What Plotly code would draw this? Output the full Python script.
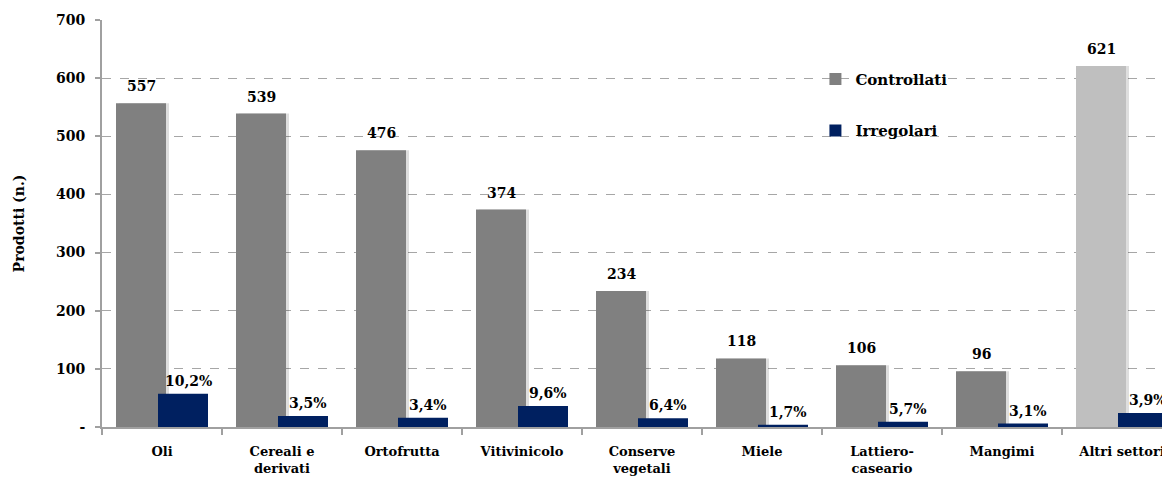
import plotly.graph_objects as go

# Data
categories  = ['Oli', 'Cereali e<br>derivati', 'Ortofrutta', 'Vitivinicolo',
               'Conserve<br>vegetali', 'Miele', 'Lattiero-<br>caseario', 'Mangimi',
               'Altri settori']
controllati = [557, 539, 476, 374, 234, 118, 106, 96, 621]
irregolari  = [57, 19, 16, 36, 15, 4, 9, 6, 24]
pct_labels  = ['10,2%', '3,5%', '3,4%', '9,6%', '6,4%', '1,7%', '5,7%', '3,1%', '3,9%']
y_ticks     = [0, 100, 200, 300, 400, 500, 600, 700]
y_ticktext  = ['-', '100', '200', '300', '400', '500', '600', '700']

FONT      = 'DejaVu Serif'
GRAY      = '#808080'
LIGHTGRAY = '#BFBFBF'
NAVY      = '#002060'
AXIS      = '#A0A0A0'

bar_w      = 50 / 120
gray_off   = -46 / 120
blue_off   = -4 / 120
shadow_off = 3 / 120

gray_colors = [GRAY] * (len(categories) - 1) + [LIGHTGRAY]

fig = go.Figure()

# soft shadow behind the grey bars
fig.add_trace(go.Bar(x          = categories,
                     y          = controllati,
                     width      = bar_w,
                     offset     = gray_off + shadow_off,
                     marker     = dict(color = 'rgba(0,0,0,0.13)', line = dict(width = 0)),
                     showlegend = False,
                     hoverinfo  = 'skip'))

fig.add_trace(go.Bar(x           = categories,
                     y           = controllati,
                     name        = 'Controllati',
                     width       = bar_w,
                     offset      = gray_off,
                     marker      = dict(color = gray_colors, line = dict(width = 0)),
                     legendgroup = 'a'))

fig.add_trace(go.Bar(x           = categories,
                     y           = irregolari,
                     name        = 'Irregolari',
                     width       = bar_w,
                     offset      = blue_off,
                     marker      = dict(color = NAVY, line = dict(width = 0)),
                     legendgroup = 'b'))

label_font  = dict(family = FONT, size = 14, color = 'black', weight = 'bold')
annotations = []
for cat, val in zip(categories, controllati):
    annotations.append(dict(x = cat, y = val, text = str(val), showarrow = False,
                            xshift = -21, yshift = 17, yanchor = 'middle', font = label_font))
for cat, val, lab in zip(categories, irregolari, pct_labels):
    annotations.append(dict(x = cat, y = val, text = lab, showarrow = False,
                            xshift = 26, yshift = 13, yanchor = 'middle', font = label_font))

# the page body has an 8px default margin, so the figure is sized to fit inside it
fig.update_layout(width         = 1162,
                  height        = 473,
                  margin        = dict(l = 94, r = 0, t = 12, b = 54),
                  barmode       = 'overlay',
                  plot_bgcolor  = 'white',
                  paper_bgcolor = 'white',
                  font          = label_font,
                  annotations   = annotations,
                  legend        = dict(x = 0.668, y = 0.895, xanchor = 'left', yanchor = 'top',
                                       bgcolor = 'rgba(0,0,0,0)', tracegroupgap = 29,
                                       itemwidth = 30,
                                       font = dict(family = FONT, size = 15, weight = 'bold')),
                  xaxis         = dict(range = [-0.5, 8.4], tickson = 'boundaries',
                                       ticks = 'outside', ticklen = 6, tickcolor = AXIS,
                                       tickwidth = 2, showline = True, linecolor = AXIS,
                                       linewidth = 2, showgrid = False, automargin = False,
                                       ticklabelstandoff = 11,
                                       tickfont = dict(family = FONT, size = 13, weight = 'bold')),
                  yaxis         = dict(range = [0, 700], tickvals = y_ticks, ticktext = y_ticktext,
                                       ticks = 'outside', ticklen = 5, tickcolor = AXIS,
                                       tickwidth = 2, showline = True, linecolor = AXIS,
                                       linewidth = 2, showgrid = True, gridcolor = '#A6A6A6',
                                       griddash = 'dash', gridwidth = 1, zeroline = False,
                                       ticklabelstandoff = 7, automargin = False,
                                       title = dict(text = 'Prodotti (n.)', standoff = 28,
                                                    font = dict(family = FONT, size = 14,
                                                                weight = 'bold')),
                                       tickfont = label_font))

fig.write_html("out.html")
